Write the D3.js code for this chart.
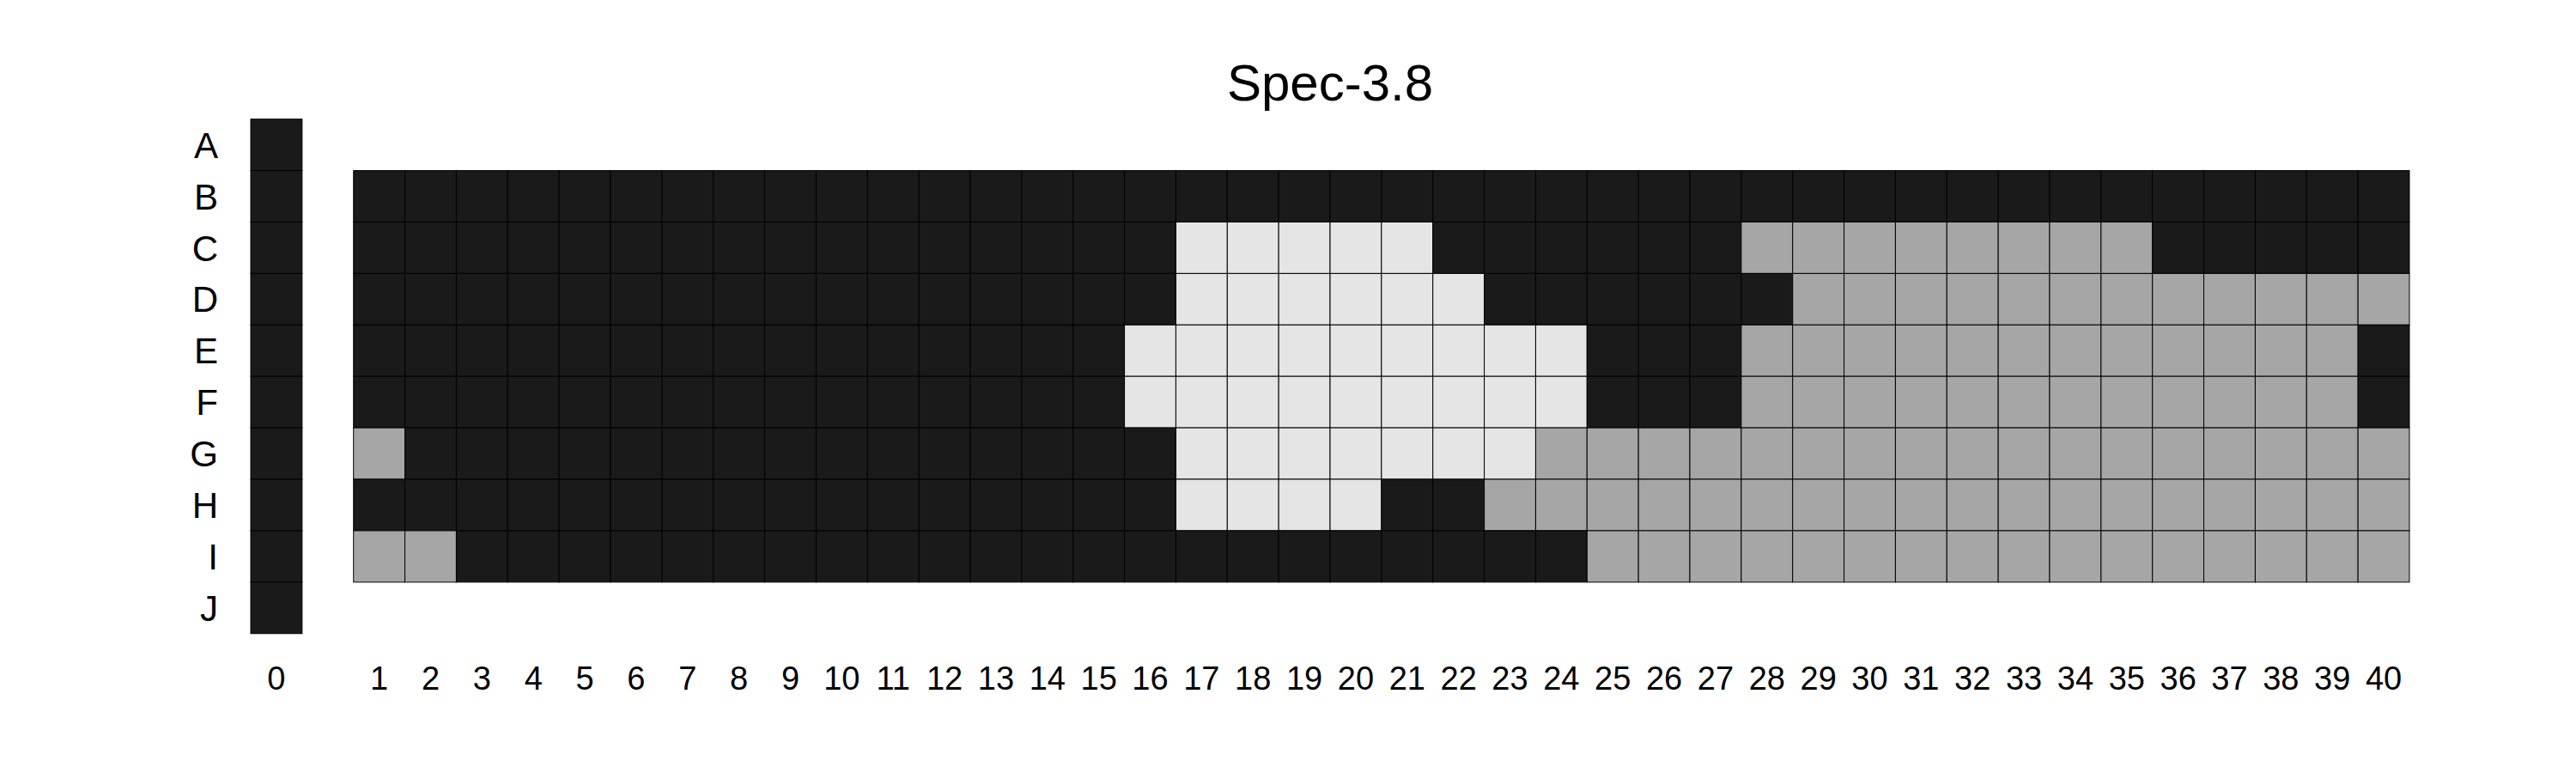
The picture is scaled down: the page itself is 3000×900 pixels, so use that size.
<!DOCTYPE html>
<html>
<head>
<meta charset="utf-8">
<script src="https://cdn.jsdelivr.net/npm/d3@7"></script>
<style>
  html, body { margin: 0; padding: 0; background: #ffffff; }
  svg { display: block; }
  text { font-family: "Liberation Sans", Arial, Helvetica, sans-serif; fill: #000; }
</style>
</head>
<body>
<script>
// ---- data ----
const title = "Spec-3.8";
const rowLabels = ["A", "B", "C", "D", "E", "F", "G", "H", "I", "J"];
const mainRows = ["B", "C", "D", "E", "F", "G", "H", "I"];
const colLabels = d3.range(0, 41).map(String);          // "0".."40"
// state codes: 0 = dark, 1 = grey, 2 = light
const col0States = [0, 0, 0, 0, 0, 0, 0, 0, 0, 0];      // rows A..J, column 0
const rowB = [0,0,0,0,0,0,0,0,0,0,0,0,0,0,0,0,0,0,0,0,0,0,0,0,0,0,0,0,0,0,0,0,0,0,0,0,0,0,0,0];
const rowC = [0,0,0,0,0,0,0,0,0,0,0,0,0,0,0,0,2,2,2,2,2,0,0,0,0,0,0,1,1,1,1,1,1,1,1,0,0,0,0,0];
const rowD = [0,0,0,0,0,0,0,0,0,0,0,0,0,0,0,0,2,2,2,2,2,2,0,0,0,0,0,0,1,1,1,1,1,1,1,1,1,1,1,1];
const rowE = [0,0,0,0,0,0,0,0,0,0,0,0,0,0,0,2,2,2,2,2,2,2,2,2,0,0,0,1,1,1,1,1,1,1,1,1,1,1,1,0];
const rowF = [0,0,0,0,0,0,0,0,0,0,0,0,0,0,0,2,2,2,2,2,2,2,2,2,0,0,0,1,1,1,1,1,1,1,1,1,1,1,1,0];
const rowG = [1,0,0,0,0,0,0,0,0,0,0,0,0,0,0,0,2,2,2,2,2,2,2,1,1,1,1,1,1,1,1,1,1,1,1,1,1,1,1,1];
const rowH = [0,0,0,0,0,0,0,0,0,0,0,0,0,0,0,0,2,2,2,2,0,0,1,1,1,1,1,1,1,1,1,1,1,1,1,1,1,1,1,1];
const rowI = [1,1,0,0,0,0,0,0,0,0,0,0,0,0,0,0,0,0,0,0,0,0,0,0,1,1,1,1,1,1,1,1,1,1,1,1,1,1,1,1];
const stateColors = ["#1a1a1a", "#a6a6a6", "#e5e5e5"];

// ---- build cells ----
const mainData = [rowB, rowC, rowD, rowE, rowF, rowG, rowH, rowI];
const cells = [];
col0States.forEach((s, i) => cells.push({ row: rowLabels[i], col: "0", state: s }));
mainData.forEach((arr, ri) => arr.forEach((s, ci) =>
  cells.push({ row: mainRows[ri], col: String(ci + 1), state: s })));

// ---- layout ----
const W = 3000, H = 900;
const svg = d3.select("body").append("svg").attr("width", W).attr("height", H);

const xDomain = ["0", "gap"].concat(colLabels.slice(1));
const x = d3.scaleBand().domain(xDomain).range([292, 2806]).padding(0);
const y = d3.scaleBand().domain(rowLabels).range([138.7, 737.7]).padding(0);
const color = d3.scaleOrdinal().domain([0, 1, 2]).range(stateColors);

svg.append("g").selectAll("rect").data(cells).join("rect")
  .attr("x", d => x(d.col))
  .attr("y", d => y(d.row))
  .attr("width", x.bandwidth())
  .attr("height", y.bandwidth())
  .attr("fill", d => color(d.state))
  .attr("stroke", "#000")
  .attr("stroke-width", 1);

// x axis labels
const xAxis = d3.axisBottom(x).tickValues(colLabels).tickSize(0).tickPadding(0);
const gx = svg.append("g").attr("transform", "translate(0,774)").call(xAxis);
gx.select(".domain").remove();
gx.selectAll("text").attr("font-size", 38).attr("dy", null).attr("y", 0)
  .attr("dominant-baseline", "auto").attr("transform", "translate(0,29)")
  .style("font-family", "'Liberation Sans', Arial, sans-serif");

// y axis labels
const yAxis = d3.axisLeft(y).tickSize(0).tickPadding(0);
const gy = svg.append("g").attr("transform", "translate(254,0)").call(yAxis);
gy.select(".domain").remove();
gy.selectAll("text").attr("font-size", 42).attr("dy", "0.36em")
  .attr("text-anchor", "end")
  .style("font-family", "'Liberation Sans', Arial, sans-serif");

// title
svg.append("text").attr("x", (292 + 2806) / 2).attr("y", 117)
  .attr("text-anchor", "middle").attr("font-size", 60).text(title);
</script>
</body>
</html>
